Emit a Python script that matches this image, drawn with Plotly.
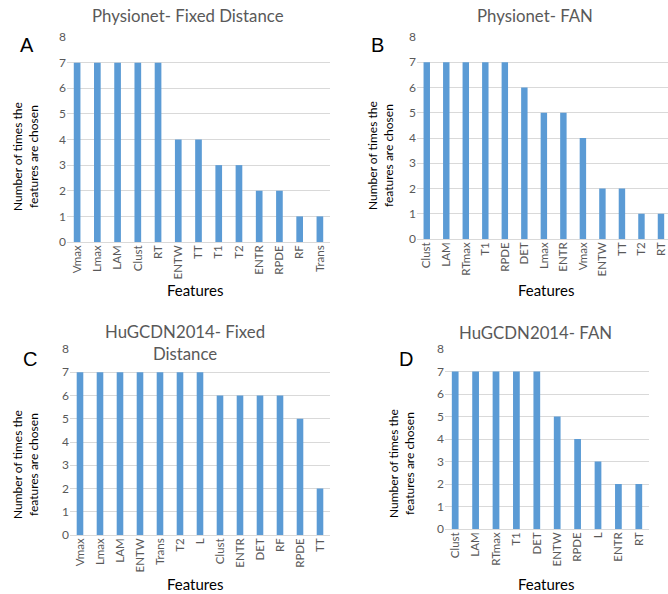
import plotly.graph_objects as go

W, H = 668, 594

# ---- data ----
feat_a = ["Vmax", "Lmax", "LAM", "Clust", "RT", "ENTW", "TT", "T1", "T2", "ENTR", "RPDE", "RF", "Trans"]
vals_a = [7, 7, 7, 7, 7, 4, 4, 3, 3, 2, 2, 1, 1]

feat_b = ["Clust", "LAM", "RTmax", "T1", "RPDE", "DET", "Lmax", "ENTR", "Vmax", "ENTW", "TT", "T2", "RT"]
vals_b = [7, 7, 7, 7, 7, 6, 5, 5, 4, 2, 2, 1, 1]

feat_c = ["Vmax", "Lmax", "LAM", "ENTW", "Trans", "T2", "L", "Clust", "ENTR", "DET", "RF", "RPDE", "TT"]
vals_c = [7, 7, 7, 7, 7, 7, 7, 6, 6, 6, 6, 5, 2]

feat_d = ["Clust", "LAM", "RTmax", "T1", "DET", "ENTW", "RPDE", "L", "ENTR", "RT"]
vals_d = [7, 7, 7, 7, 7, 5, 4, 3, 2, 2]

titles = ["Physionet- Fixed Distance", "Physionet- FAN", "HuGCDN2014- Fixed<br>Distance", "HuGCDN2014- FAN"]
letters = ["A", "B", "C", "D"]
y_title = "Number of times the<br>features are chosen"
x_title = "Features"

BAR = "#5B9BD5"
GRID = "#D9D9D9"
TXT = "#595959"
FONT = "Lato, Open Sans, sans-serif"

def px(x):
    return x / W

def py(y):
    return 1 - y / H

fig = go.Figure()

panels = [
    (feat_a, vals_a, "x", "y", [67, 330], [242, 37], None),
    (feat_b, vals_b, "x2", "y2", [417, 668], [239, 37], [-0.5, 12.36]),
    (feat_c, vals_c, "x3", "y3", [70, 330], [535, 349], None),
    (feat_d, vals_d, "x4", "y4", [445, 649], [529, 349], None),
]

layout = {}
for i, (f, v, xa, ya, xd, yd, xr) in enumerate(panels):
    fig.add_trace(go.Bar(x=list(range(len(f))), y=v, xaxis=xa, yaxis=ya,
                         marker=dict(color=BAR, line=dict(width=0)), width=0.33,
                         showlegend=False, hoverinfo="skip", cliponaxis=True))
    n = "" if i == 0 else str(i + 1)
    layout["xaxis" + n] = dict(
        domain=[px(xd[0]), px(xd[1])], anchor="y" + n, automargin=False,
        range=xr if xr else [-0.5, len(f) - 0.5],
        tickmode="array", tickvals=list(range(len(f))), ticktext=f,
        tickangle=-90, showgrid=False, zeroline=False, showline=False,
        ticks="", tickfont=dict(family=FONT, size=11.5, color=TXT), fixedrange=True,
    )
    layout["yaxis" + n] = dict(
        domain=[py(yd[0]), py(yd[1])], anchor="x" + n, automargin=False,
        range=[0, 8], dtick=1, showgrid=True, gridcolor=GRID, gridwidth=1,
        zeroline=True, zerolinecolor=GRID, zerolinewidth=1, showline=False,
        ticks="", tickfont=dict(family=FONT, size=12, color=TXT), fixedrange=True,
    )

ann = []
# titles
title_pos = [(188, 15), (535, 15), (185, 342), (535, 332)]
for t, (x, y) in zip(titles, title_pos):
    ann.append(dict(text=t, x=px(x), y=py(y), xref="paper", yref="paper",
                    showarrow=False, xanchor="center", yanchor="middle",
                    font=dict(family=FONT, size=16.8, color=TXT)))
# letters
letter_pos = [(27, 45), (377, 45), (30, 359), (406, 359)]
for t, (x, y) in zip(letters, letter_pos):
    ann.append(dict(text=t, x=px(x), y=py(y), xref="paper", yref="paper",
                    showarrow=False, xanchor="center", yanchor="middle",
                    font=dict(family="Liberation Sans, Arial", size=20, color="#000000")))
# y titles
ytitle_pos = [(25, 156), (380, 156), (25, 464), (401, 464)]
for (x, y) in ytitle_pos:
    ann.append(dict(text=y_title, x=px(x), y=py(y), xref="paper", yref="paper",
                    showarrow=False, xanchor="center", yanchor="middle", textangle=-90,
                    font=dict(family=FONT, size=12, color="#000000")))
# x titles
xtitle_pos = [(195, 290), (546, 290), (195, 584), (546, 584)]
for (x, y) in xtitle_pos:
    ann.append(dict(text=x_title, x=px(x), y=py(y), xref="paper", yref="paper",
                    showarrow=False, xanchor="center", yanchor="middle",
                    font=dict(family=FONT, size=15, color="#000000")))

fig.update_layout(
    template="none",
    width=W, height=H, margin=dict(l=0, r=0, t=0, b=0, autoexpand=False),
    paper_bgcolor="white", plot_bgcolor="white",
    annotations=ann, **layout,
)

fig.write_html("out.html", config={"displayModeBar": False},
               post_script="document.body.style.margin='0';document.body.style.overflow='hidden';")
